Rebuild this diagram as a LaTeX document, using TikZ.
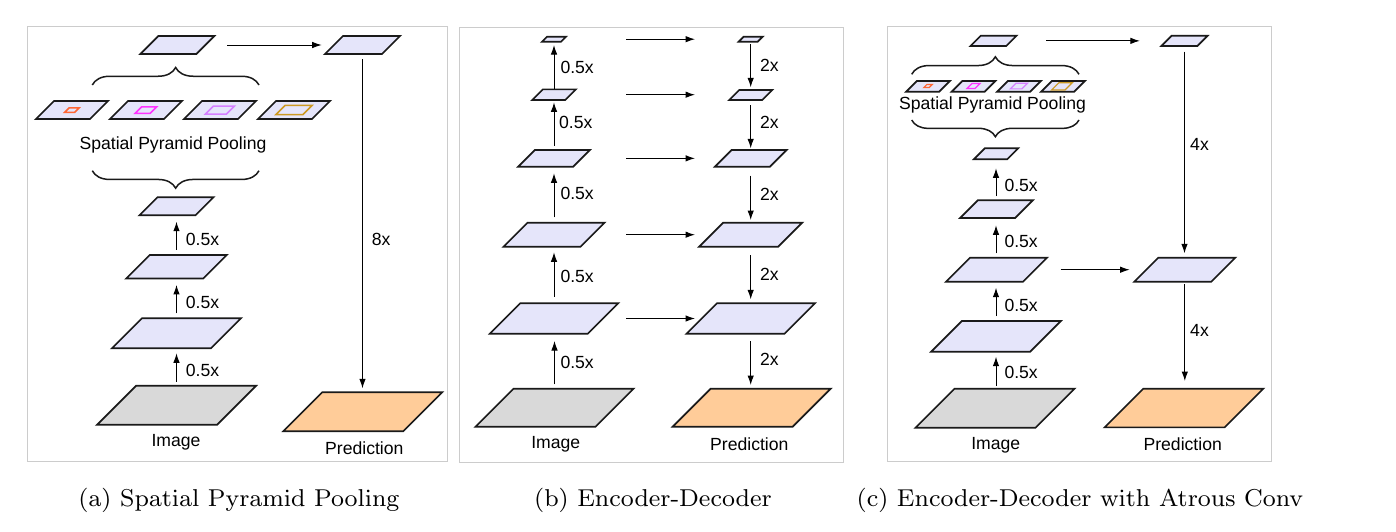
\documentclass[tikz,border=0pt]{standalone}
\usepackage{fontspec}
\setmainfont{Liberation Sans}
\usetikzlibrary{arrows.meta,decorations.pathreplacing,calc}
\font\capfnt=cmr8 at 24.4pt
\definecolor{lav}{RGB}{229,229,250}
\definecolor{imggray}{RGB}{217,217,217}
\definecolor{predor}{RGB}{255,204,153}
\definecolor{framegray}{RGB}{204,204,204}
\definecolor{ink}{RGB}{26,26,26}
\definecolor{sppA}{RGB}{255,102,51}
\definecolor{sppB}{RGB}{255,51,255}
\definecolor{sppC}{RGB}{213,128,255}
\definecolor{sppD}{RGB}{204,153,34}
\tikzset{
  slot/.style={inner sep=0pt, outer sep=0pt, draw=none},
  planestyle/.style={draw=ink, line width=1.7pt, line join=miter},
  arr/.style={draw=black, line width=1pt, -{Latex[length=9.5pt,width=6.5pt]}},
  lab/.style={font=\fontsize{17.6}{20}\selectfont, inner sep=0pt, text=black},
  brc/.style={decorate, decoration={brace, amplitude=17.5pt, aspect=0.5}, line width=1.5pt, draw=ink},
  framebox/.style={draw=framegray, line width=1pt},
  captext/.style={font=\capfnt, inner sep=0pt, anchor=base},
}
% name, cx, cy, W, H, fill
\newcommand\fmap[6]{%
  \node[slot, minimum width={#4+#5}, minimum height=#5] (#1) at (#2,#3) {};
  \draw[planestyle, fill=#6] (#1.south west) -- ++(#4,0) -- (#1.north east) -- ++(-#4,0) -- cycle;
}
% name, cx, cy, W, H, colour, width
\newcommand\poolwin[7]{%
  \node[slot, minimum width={#4+#5}, minimum height=#5] (#1) at (#2,#3) {};
  \draw[draw=#6, line width=#7, line join=miter] (#1.south west) -- ++(#4,0) -- (#1.north east) -- ++(-#4,0) -- cycle;
}
\begin{document}
\begin{tikzpicture}[x=1pt,y=-1pt]
\fill[white] (0,0) rectangle (1396,531);
\useasboundingbox (0,0) rectangle (1396,531);

% frames
\draw[framebox] (27.3,26.7) rectangle (447.3,461.3);
\draw[framebox] (459.7,27.3) rectangle (843.3,462.7);
\draw[framebox] (887.3,26.7) rectangle (1271.3,461.3);

% ================= (a)
\fmap{a0}{176.5}{405.3}{120}{39}{imggray}
\fmap{a1}{176.5}{333.2}{99}{30}{lav}
\fmap{a2}{176.5}{266.7}{77}{23.5}{lav}
\fmap{a3}{176.5}{206.2}{56}{18}{lav}
\fmap{as1}{72}{110}{54}{18}{lav}
\fmap{as2}{146}{110}{54}{18}{lav}
\fmap{as3}{220}{110}{54}{18}{lav}
\fmap{as4}{294}{110}{54}{18}{lav}
\poolwin{aw1}{72}{110}{10}{4.5}{sppA}{1.5pt}
\poolwin{aw2}{146}{110}{15}{6.5}{sppB}{1.5pt}
\poolwin{aw3}{220}{110}{21}{8}{sppC}{1.5pt}
\poolwin{aw4}{294}{110}{27}{9.3}{sppD}{1.5pt}
\fmap{a4}{177.4}{45}{56}{18}{lav}
\fmap{ad}{362.5}{45}{57}{18}{lav}
\fmap{apred}{362.8}{411.7}{120}{39}{predor}

\draw[brc] (92.3,85) -- (259,85);
\draw[brc] (259,170.7) -- (92.3,170.7);
\node[lab] (aspp) at (173,145) {Spatial Pyramid Pooling};

\draw[arr, shorten <=4.1pt, shorten >=5.1pt] (a0.north) -- (a1.south);
\draw[arr, shorten <=4.9pt, shorten >=6.5pt] (a1.north) -- (a2.south);
\draw[arr, shorten <=5pt, shorten >=6.5pt] (a2.north) -- (a3.south);
\draw[arr, shorten <=12.6pt, shorten >=3.3pt] (a4.east) -- (a4.east -| ad.west);
\draw[arr, shorten <=5.3pt, shorten >=3.9pt] (ad.south) -- (ad.south |- apred.north);

\node[lab, anchor=west] (al1) at (185.7,370) {0.5x};
\node[lab, anchor=west] (al2) at (185.7,302.3) {0.5x};
\node[lab, anchor=west] (al3) at (185.7,239) {0.5x};
\node[lab, anchor=west] (al4) at (371.7,239) {8x};
\node[lab] (aimg) at (176,442.3) {Image};
\node[lab] (apredl) at (364.3,447.7) {Prediction};

% ================= (b)
\fmap{b0}{554.5}{407.7}{120}{38}{imggray}
\fmap{b1}{554}{318.5}{98}{30.4}{lav}
\fmap{b2}{554}{234.7}{77}{24}{lav}
\fmap{b3}{554}{158.35}{55}{16.7}{lav}
\fmap{b4}{554}{94.7}{33}{10.7}{lav}
\fmap{b5}{554}{39.2}{19}{5}{lav}
\fmap{bd5}{750.7}{39.2}{19}{5}{lav}
\fmap{bd4}{750.7}{95}{33}{10}{lav}
\fmap{bd3}{750.7}{158.35}{55}{16.7}{lav}
\fmap{bd2}{750.7}{234.7}{79}{24}{lav}
\fmap{bd1}{750.7}{318.5}{98}{30.4}{lav}
\fmap{bpred}{751.7}{407.7}{120}{38}{predor}

\draw[arr, shorten <=4.4pt, shorten >=7.3pt] (b0.north) -- (b0.north |- b1.south);
\draw[arr, shorten <=6.6pt, shorten >=5.6pt] (b1.north) -- (b1.north |- b2.south);
\draw[arr, shorten <=5.4pt, shorten >=6.6pt] (b2.north) -- (b2.north |- b3.south);
\draw[arr, shorten <=4.3pt, shorten >=2.3pt] (b3.north) -- (b3.north |- b4.south);
\draw[arr, shorten <=0.3pt, shorten >=3.3pt] (b4.north) -- (b4.north |- b5.south);

\draw[arr, shorten <=2.3pt, shorten >=2.7pt] (bd5.south) -- (bd5.south |- bd4.north);
\draw[arr, shorten <=5pt, shorten >=1.7pt] (bd4.south) -- (bd4.south |- bd3.north);
\draw[arr, shorten <=9pt, shorten >=2.7pt] (bd3.south) -- (bd3.south |- bd2.north);
\draw[arr, shorten <=8.3pt, shorten >=4pt] (bd2.south) -- (bd2.south |- bd1.north);
\draw[arr, shorten <=7.3pt, shorten >=3.7pt] (bd1.south) -- (bd1.south |- bpred.north);

\coordinate (bxs) at (626,0);
\coordinate (bxe) at (695,0);
\draw[arr] (b5 -| bxs) -- (b5 -| bxe);
\draw[arr] (b4 -| bxs) -- (b4 -| bxe);
\draw[arr] (b3 -| bxs) -- (b3 -| bxe);
\draw[arr] (b2 -| bxs) -- (b2 -| bxe);
\draw[arr] (b1 -| bxs) -- (b1 -| bxe);

\node[lab, anchor=west] (bl1) at (560.3,362.3) {0.5x};
\node[lab, anchor=west] (bl2) at (560.3,276) {0.5x};
\node[lab, anchor=west] (bl3) at (560.3,193.3) {0.5x};
\node[lab, anchor=west] (bl4) at (559,122.3) {0.5x};
\node[lab, anchor=west] (bl5) at (560.3,67.3) {0.5x};
\node[lab, anchor=west] (br1) at (760,65.7) {2x};
\node[lab, anchor=west] (br2) at (760,122.3) {2x};
\node[lab, anchor=west] (br3) at (760,194) {2x};
\node[lab, anchor=west] (br4) at (760,274.3) {2x};
\node[lab, anchor=west] (br5) at (760,359.3) {2x};
\node[lab] (bimg) at (555.7,444) {Image};
\node[lab] (bpredl) at (749.3,443.7) {Prediction};

% ================= (c)
\fmap{c0}{995}{408.2}{120}{39}{imggray}
\fmap{c1}{996}{336.35}{99}{30.7}{lav}
\fmap{c2}{996.5}{269.7}{77}{24}{lav}
\fmap{c3}{996.5}{209.15}{55}{17.7}{lav}
\fmap{c4}{996}{153.8}{33.3}{11}{lav}
\fmap{cs1}{928}{86.3}{33}{10.7}{lav}
\fmap{cs2}{973.5}{86.3}{33}{10.7}{lav}
\fmap{cs3}{1019}{86.3}{33}{10.7}{lav}
\fmap{cs4}{1063}{86.3}{33}{10.7}{lav}
\poolwin{cw1}{928}{86}{5.3}{3}{sppA}{1.2pt}
\poolwin{cw2}{973.5}{86}{8}{5}{sppB}{1.2pt}
\poolwin{cw3}{1019}{86}{11.6}{5.7}{sppC}{1.2pt}
\poolwin{cw4}{1062}{86.3}{13.4}{7.3}{sppD}{1.2pt}
\fmap{c5}{993.5}{40.85}{35.7}{10.3}{lav}
\fmap{cd5}{1184.5}{40.85}{36}{10.3}{lav}
\fmap{cd2}{1184.8}{269.7}{77}{24}{lav}
\fmap{cpred}{1184}{408}{120}{38.7}{predor}

\draw[brc] (911.7,74.3) -- (1079,74.3);
\draw[brc, decoration={amplitude=16.7pt}] (1079,120) -- (911.7,120);
\node[lab] (cspp) at (992.5,105) {Spatial Pyramid Pooling};

\draw[arr, shorten <=3pt, shorten >=5pt] (c0.north -| c4.south) -- (c1.south -| c4.south);
\draw[arr, shorten <=5pt, shorten >=6pt] (c1.north -| c4.south) -- (c2.south -| c4.south);
\draw[arr, shorten <=4.4pt, shorten >=7.3pt] (c2.north -| c4.south) -- (c3.south -| c4.south);
\draw[arr, shorten <=4.3pt, shorten >=9pt] (c3.north -| c4.south) -- (c4.south);

\draw[arr, shorten <=5.7pt, shorten >=4.4pt] (cd5.south) -- (cd5.south |- cd2.north);
\draw[arr, shorten <=2.6pt, shorten >=7.65pt] (cd2.south) -- (cd2.south |- cpred.north);
\draw[arr, shorten <=29.5pt, shorten >=21.5pt] (c5.east) -- (c5.east -| cd5.west);
\draw[arr, shorten <=13.5pt, shorten >=4.7pt] (c2.east) -- (c2.east -| cd2.west);

\node[lab, anchor=west] (cl1) at (1004.3,372.7) {0.5x};
\node[lab, anchor=west] (cl2) at (1004.3,305) {0.5x};
\node[lab, anchor=west] (cl3) at (1004.3,241.7) {0.5x};
\node[lab, anchor=west] (cl4) at (1004.3,185) {0.5x};
\node[lab, anchor=west] (cr1) at (1190,144.3) {4x};
\node[lab, anchor=west] (cr2) at (1190,330) {4x};
\node[lab] (cimg) at (995.7,445) {Image};
\node[lab] (cpredl) at (1182.7,444) {Prediction};

% captions
\node[captext] (capa) at (239,506.5) {(a) Spatial Pyramid Pooling};
\node[captext] (capb) at (653,506.5) {(b) Encoder-Decoder};
\node[captext] (capc) at (1080,506.5) {(c) Encoder-Decoder with Atrous Conv};
\end{tikzpicture}
\end{document}
